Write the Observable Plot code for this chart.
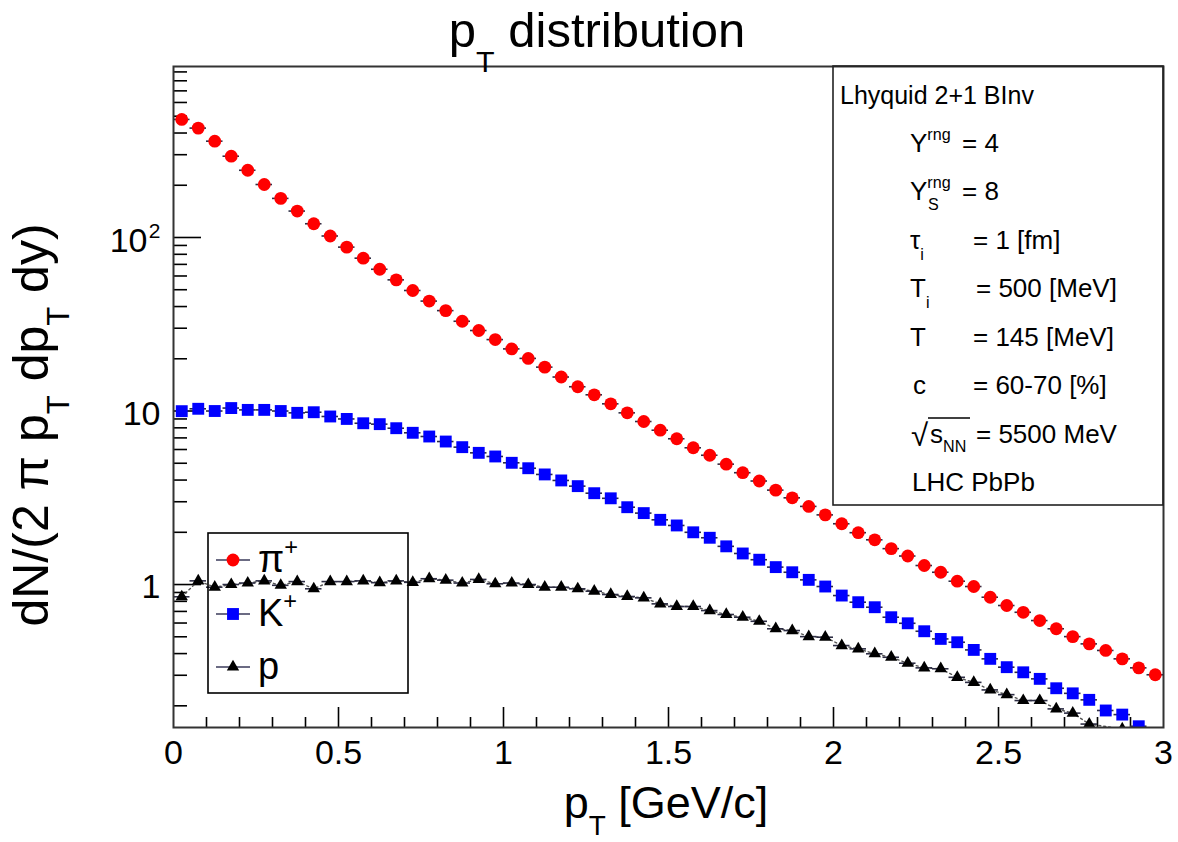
<!DOCTYPE html>
<html><head><meta charset="utf-8">
<script src="https://cdn.jsdelivr.net/npm/d3@7"></script>
<script src="https://cdn.jsdelivr.net/npm/@observablehq/plot@0.6"></script>
<style>
html,body{margin:0;padding:0;background:#fff;}
svg{display:block;}
</style>
</head><body><div id="chart"></div>
<script>
// ---- data ----
const pT = [0.025,0.075,0.125,0.175,0.225,0.275,0.325,0.375,0.425,0.475,
            0.525,0.575,0.625,0.675,0.725,0.775,0.825,0.875,0.925,0.975,
            1.025,1.075,1.125,1.175,1.225,1.275,1.325,1.375,1.425,1.475,
            1.525,1.575,1.625,1.675,1.725,1.775,1.825,1.875,1.925,1.975,
            2.025,2.075,2.125,2.175,2.225,2.275,2.325,2.375,2.425,2.475,
            2.525,2.575,2.625,2.675,2.725,2.775,2.825,2.875,2.925,2.975];
const pion = [479,427,359,294,244,202,168,142,120,102,
              88,76,65.6,57,49.5,43.0,37.9,32.9,29.1,25.8,
              22.8,20.1,17.9,15.7,13.8,12.4,11.0,9.76,8.7,7.75,
              6.92,6.14,5.56,4.94,4.41,3.95,3.50,3.16,2.82,2.52,
              2.24,1.99,1.81,1.61,1.46,1.287,1.177,1.045,0.974,0.845,
              0.757,0.692,0.620,0.556,0.501,0.455,0.417,0.373,0.331,0.302];
const kaon = [9.98,10.3,10.0,10.4,10.15,10.15,10.0,9.76,9.84,9.3,
              9.0,8.5,8.4,7.96,7.49,7.13,6.67,6.19,5.74,5.47,
              5.03,4.68,4.31,3.98,3.69,3.36,3.14,2.79,2.58,2.36,
              2.19,2.00,1.86,1.66,1.51,1.39,1.26,1.177,1.064,0.974,
              0.864,0.791,0.740,0.648,0.598,0.538,0.486,0.465,0.420,0.373,
              0.334,0.312,0.286,0.2525,0.236,0.2165,0.188,0.178,0.1525,null];
const proton = [0.85,1.05,0.965,1.0,1.02,1.05,0.99,1.04,0.945,1.04,
                1.04,1.05,1.025,1.05,1.03,1.08,1.06,1.02,1.07,1.01,
                1.02,1.0,0.965,0.965,0.945,0.915,0.876,0.853,0.838,0.774,
                0.747,0.747,0.708,0.672,0.648,0.614,0.556,0.543,0.501,0.497,
                0.445,0.426,0.399,0.381,0.352,0.331,0.327,0.292,0.273,0.247,
                0.232,0.2145,0.2145,0.192,0.1815,0.157,null,0.147,null,null];
const binHalf = 0.025;

const xMajor = [0,0.5,1,1.5,2,2.5,3];
const xMinor = [0.1,0.2,0.3,0.4,0.6,0.7,0.8,0.9,1.1,1.2,1.3,1.4,1.6,1.7,1.8,1.9,2.1,2.2,2.3,2.4,2.6,2.7,2.8,2.9];
const yMajor = [1,10,100];
const yMinor = [0.2,0.3,0.4,0.5,0.6,0.7,0.8,0.9,2,3,4,5,6,7,8,9,20,30,40,50,60,70,80,90,200,300,400,500,600,700,800,900];
const yDomain = [0.15, 967];

const seriesNames = ["π", "K", "p"];
const seriesColors = ["#ff0000", "#0000ff", "#000000"];

const infoHeader = "Lhyquid 2+1 BInv";
const infoFooter = "LHC PbPb";

// ---- layout ----
const FONT = "'Liberation Sans', Arial, Helvetica, sans-serif";
const W = 1178, H = 842;
const mL = 173, mR = 15, mT = 66, mB = 115;
const fW = W - mL - mR, fH = H - mT - mB;

const rows = (vals, s) => pT.map((x, i) => ({x, v: vals[i], s})).filter(d => d.v != null);
const pi = rows(pion, "pi"), ka = rows(kaon, "K"), pr = rows(proton, "p");
const all = pi.concat(ka, pr);
const errColor = "#2d2d44";

const chart = Plot.plot({
  width: W, height: H,
  marginLeft: mL, marginRight: mR, marginTop: mT, marginBottom: mB,
  style: {fontFamily: FONT, background: "white", color: "black", overflow: "visible"},
  x: {domain: [0, 3], axis: null},
  y: {type: "log", domain: yDomain, axis: null},
  marks: [
    Plot.ruleX(xMajor.slice(1, -1), {x: d => d, insetTop: fH - 20, stroke: "#000", strokeWidth: 1.6}),
    Plot.ruleX(xMinor, {x: d => d, insetTop: fH - 10, stroke: "#000", strokeWidth: 1.6}),
    Plot.ruleY(yMajor, {y: d => d, insetRight: fW - 28, stroke: "#000", strokeWidth: 1.6}),
    Plot.ruleY(yMinor, {y: d => d, insetRight: fW - 14, stroke: "#000", strokeWidth: 1.6}),
    Plot.line(pr, {x: "x", y: "v", stroke: "#555", strokeWidth: 1.4, strokeDasharray: "2,3", clip: true}),
    Plot.ruleY(all, {y: "v", x1: d => d.x - binHalf, x2: d => d.x + binHalf, stroke: errColor, strokeWidth: 1.6, clip: true}),
    Plot.dot(pi, {x: "x", y: "v", symbol: "circle", r: 6.4, fill: seriesColors[0], clip: true}),
    Plot.dot(ka, {x: "x", y: "v", symbol: "square", r: 6.7, fill: seriesColors[1], clip: true}),
    Plot.dot(pr, {x: "x", y: "v", symbol: "triangle", r: 4.6, fill: seriesColors[2], clip: true}),
    Plot.axisX(xMajor, {tickSize: 0, tickPadding: 12, fontSize: 34, tickFormat: d => String(d), label: null, fill: "#000"}),
    Plot.text([1, 10], {y: d => d, text: d => String(d), frameAnchor: "left", dx: -13, dy: 3, textAnchor: "end", fontSize: 34, fill: "#000"}),
    Plot.text([100], {y: d => d, text: d => "10", frameAnchor: "left", dx: -26, dy: 4, textAnchor: "end", fontSize: 34, fill: "#000"}),
    Plot.text([100], {y: d => d, text: d => "2", frameAnchor: "left", dx: -13, dy: -6, textAnchor: "end", fontSize: 21, fill: "#000"}),
    Plot.frame({stroke: "#333", strokeWidth: 2})
  ]
});
document.getElementById("chart").appendChild(chart);

// ---- annotations (title, axis titles, legend, info box) ----
const svg = d3.select(chart);

function rich(g, x, y, fs, parts, anchor) {
  const t = g.append("text").attr("x", x).attr("y", y)
    .attr("font-family", FONT).attr("font-size", fs).attr("fill", "#000")
    .attr("text-anchor", anchor || "start");
  let cur = 0;
  for (const p of parts) {
    const size = p.sub || p.sup ? fs * (p.scale || 0.62) : fs;
    const target = p.sub ? fs * (p.shift || 0.42) : p.sup ? -fs * (p.shift || 0.42) : 0;
    const ts = t.append("tspan").attr("font-size", size).attr("dy", target - cur).text(p.t);
    if (p.dx) ts.attr("dx", p.dx);
    cur = target;
  }
  return t;
}

// title
rich(svg, 597, 47, 49, [{t: "p"}, {t: "T", sub: true, shift: 0.5}, {t: " distribution"}], "middle");
// x title
rich(svg, 666, 818, 45, [{t: "p"}, {t: "T", sub: true, shift: 0.38}, {t: " [GeV/c]"}], "middle");
// y title
const gy = svg.append("g").attr("transform", "translate(48,425) rotate(-90)");
rich(gy, 0, 0, 50, [{t: "dN/(2 π p"}, {t: "T", sub: true, shift: 0.42}, {t: " dp"}, {t: "T", sub: true, shift: 0.42}, {t: " dy)"}], "middle");

// legend
const leg = svg.append("g");
leg.append("rect").attr("x", 208).attr("y", 533).attr("width", 200).attr("height", 160)
  .attr("fill", "none").attr("stroke", "#000").attr("stroke-width", 1.6);
const legY = [560, 614, 667];
const legSym = [d3.symbolCircle, d3.symbolSquare, d3.symbolTriangle];
const legR = [6.4, 6.7, 4.6];
seriesNames.forEach((name, i) => {
  leg.append("line").attr("x1", 216).attr("x2", 250).attr("y1", legY[i]).attr("y2", legY[i])
    .attr("stroke", "#3a3a5a").attr("stroke-width", 1.6);
  leg.append("path").attr("transform", `translate(233,${legY[i]})`)
    .attr("d", d3.symbol(legSym[i], Math.PI * legR[i] * legR[i])()).attr("fill", seriesColors[i]);
  const parts = i < 2 ? [{t: name}, {t: "+", sup: true, shift: 0.45, scale: 0.62}] : [{t: name}];
  rich(leg, 258, legY[i] + 12, 38, parts);
});

// info box
const info = svg.append("g");
info.append("rect").attr("x", 833).attr("y", mT).attr("width", W - mR - 833).attr("height", 505 - mT)
  .attr("fill", "none").attr("stroke", "#222").attr("stroke-width", 1.6);
const fsI = 26;
const lineY = [104, 152, 200, 249, 297, 346, 394, 443, 491];
const xs = 910, xe = 973;
rich(info, 840, lineY[0], fsI - 1, [{t: infoHeader}]);
rich(info, xs, lineY[1], fsI, [{t: "Y"}, {t: "rng", sup: true, shift: 0.45, scale: 0.62}]);
rich(info, 962, lineY[1], fsI, [{t: "= 4"}]);
rich(info, xs, lineY[2], fsI, [{t: "Y"}, {t: "rng", sup: true, shift: 0.45, scale: 0.62}]);
rich(info, xs + 18, lineY[2], fsI, [{t: "S", sub: true, shift: 0.4, scale: 0.62}]);
rich(info, 962, lineY[2], fsI, [{t: "= 8"}]);
rich(info, xs, lineY[3], fsI, [{t: "τ"}, {t: "i", sub: true, shift: 0.42, scale: 0.62}]);
rich(info, xe, lineY[3], fsI, [{t: "= 1 [fm]"}]);
rich(info, xs, lineY[4], fsI, [{t: "T"}, {t: "i", sub: true, shift: 0.42, scale: 0.62}]);
rich(info, xe + 3, lineY[4], fsI, [{t: "= 500 [MeV]"}]);
rich(info, xs, lineY[5], fsI, [{t: "T"}]);
rich(info, xe, lineY[5], fsI, [{t: "= 145 [MeV]"}]);
rich(info, xs + 3, lineY[6], fsI, [{t: "c"}]);
rich(info, xe, lineY[6], fsI, [{t: "= 60-70 [%]"}]);
rich(info, xs + 1, lineY[7] + 3, fsI * 1.2, [{t: "√"}]);
rich(info, xs + 20, lineY[7], fsI, [{t: "s"}, {t: "NN", sub: true, shift: 0.35, scale: 0.62}]);
info.append("line").attr("x1", xs + 18).attr("x2", 970).attr("y1", lineY[7] - 25).attr("y2", lineY[7] - 25)
  .attr("stroke", "#000").attr("stroke-width", 1.5);
rich(info, 976, lineY[7], fsI, [{t: "= 5500 MeV"}]);
rich(info, xs + 2, lineY[8], fsI, [{t: infoFooter}]);
</script>
</body></html>
